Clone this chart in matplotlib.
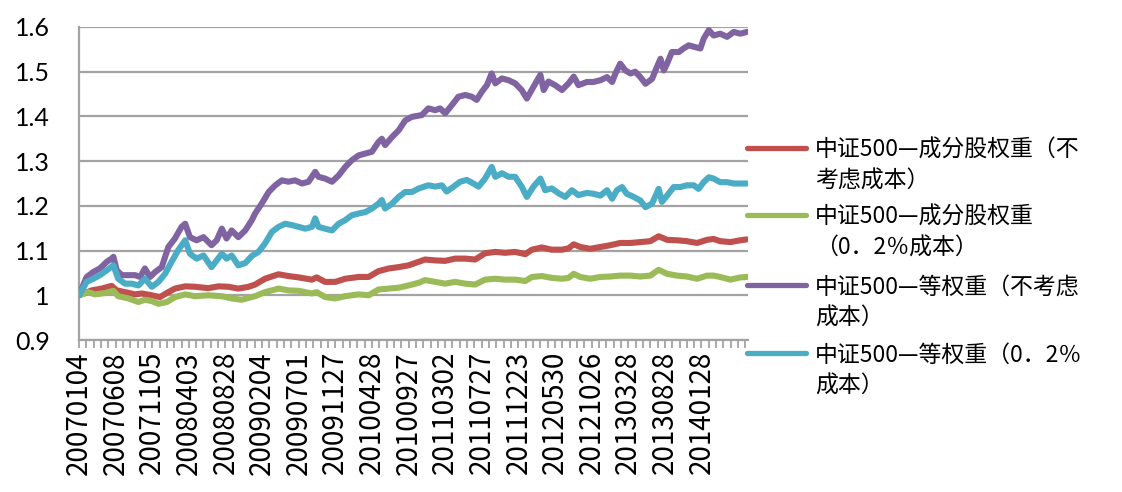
import matplotlib
matplotlib.use("Agg")
import matplotlib.pyplot as plt
from matplotlib.lines import Line2D
from matplotlib.ticker import FixedLocator, MultipleLocator, FuncFormatter

# ---------------- data ----------------
date_labels = ["20070104", "20070608", "20071105", "20080403", "20080828",
               "20090204", "20090701", "20091127", "20100428", "20100927",
               "20110302", "20110727", "20111223", "20120530", "20121026",
               "20130328", "20130828", "20140128"]
label_step = 100          # trading days between labelled categories
n_days = 1828             # number of trading days on the axis

series_names = ["中证500—成分股权重（不\n考虑成本）",
                "中证500—成分股权重\n（0．2％成本）",
                "中证500—等权重（不考虑\n成本）",
                "中证500—等权重（0．2％\n成本）"]

red_day = [0, 35, 62, 89, 103, 126, 153, 171, 199, 221, 244, 262, 290, 317, 353, 381, 408, 435, 463, 481,
           508, 545, 572, 600, 636, 649, 672, 700, 727, 764, 791, 818, 846, 873, 900, 928, 945, 973, 1000,
           1027, 1055, 1082, 1109, 1137, 1164, 1191, 1219, 1237, 1264, 1291, 1319, 1337, 1351, 1369, 1396,
           1424, 1451, 1478, 1506, 1533, 1560, 1583, 1606, 1633, 1660, 1688, 1715, 1733, 1751, 1779, 1806, 1824]
red_val = [1.000, 1.011, 1.015, 1.021, 1.011, 1.007, 1.002, 1.004, 1.000, 0.996, 1.007, 1.015, 1.020, 1.019,
           1.016, 1.020, 1.019, 1.015, 1.019, 1.024, 1.037, 1.047, 1.043, 1.040, 1.035, 1.040, 1.030, 1.030,
           1.037, 1.041, 1.041, 1.054, 1.060, 1.063, 1.067, 1.075, 1.080, 1.078, 1.077, 1.082, 1.082, 1.080,
           1.094, 1.097, 1.095, 1.097, 1.092, 1.102, 1.107, 1.102, 1.102, 1.105, 1.114, 1.108, 1.104, 1.108,
           1.112, 1.117, 1.117, 1.119, 1.121, 1.132, 1.124, 1.123, 1.121, 1.117, 1.124, 1.126, 1.121, 1.119,
           1.123, 1.125]

green_day = [0, 25, 44, 71, 94, 107, 135, 162, 180, 199, 217, 240, 262, 290, 317, 353, 390, 417, 444, 481,
             508, 545, 572, 600, 636, 649, 672, 700, 727, 764, 791, 818, 846, 873, 900, 928, 945, 973, 1000,
             1027, 1055, 1082, 1109, 1137, 1164, 1191, 1219, 1237, 1264, 1291, 1319, 1337, 1351, 1369, 1396,
             1424, 1451, 1478, 1506, 1533, 1560, 1583, 1606, 1633, 1660, 1688, 1715, 1733, 1751, 1779, 1806, 1824]
green_val = [1.000, 1.007, 1.002, 1.005, 1.010, 0.998, 0.993, 0.985, 0.990, 0.987, 0.981, 0.985, 0.996, 1.002,
             0.998, 1.000, 0.998, 0.993, 0.990, 0.998, 1.007, 1.015, 1.011, 1.010, 1.004, 1.007, 0.996, 0.993,
             0.998, 1.002, 1.000, 1.013, 1.015, 1.017, 1.022, 1.028, 1.034, 1.030, 1.026, 1.030, 1.026, 1.024,
             1.035, 1.037, 1.035, 1.035, 1.032, 1.041, 1.043, 1.039, 1.037, 1.039, 1.048, 1.041, 1.037, 1.041,
             1.042, 1.044, 1.044, 1.042, 1.044, 1.057, 1.048, 1.044, 1.042, 1.037, 1.044, 1.044, 1.041, 1.035,
             1.040, 1.041]

purple_day = [0, 21, 39, 57, 76, 89, 94, 103, 117, 135, 153, 167, 180, 194, 208, 226, 244, 262, 280, 290,
              303, 321, 340, 362, 376, 390, 403, 417, 435, 454, 472, 481, 499, 518, 536, 554, 572, 590, 609,
              627, 645, 654, 672, 691, 709, 727, 745, 764, 782, 800, 818, 827, 836, 855, 873, 891, 909, 936,
              954, 973, 986, 1000, 1018, 1036, 1055, 1073, 1086, 1100, 1114, 1127, 1137, 1155, 1173, 1191,
              1209, 1223, 1241, 1260, 1269, 1282, 1300, 1319, 1337, 1351, 1364, 1387, 1405, 1424, 1442, 1456,
              1465, 1478, 1492, 1506, 1519, 1533, 1547, 1565, 1578, 1588, 1597, 1606, 1619, 1638, 1651, 1665,
              1683, 1697, 1706, 1720, 1733, 1751, 1770, 1788, 1806, 1824]
purple_val = [1.000, 1.041, 1.052, 1.060, 1.075, 1.082, 1.086, 1.056, 1.045, 1.045, 1.045, 1.041, 1.060, 1.041,
              1.052, 1.063, 1.108, 1.127, 1.153, 1.160, 1.130, 1.123, 1.130, 1.112, 1.123, 1.149, 1.127, 1.145,
              1.130, 1.145, 1.168, 1.183, 1.205, 1.231, 1.246, 1.257, 1.254, 1.257, 1.250, 1.254, 1.276, 1.265,
              1.261, 1.254, 1.268, 1.287, 1.302, 1.313, 1.317, 1.321, 1.343, 1.350, 1.336, 1.354, 1.369, 1.391,
              1.399, 1.403, 1.418, 1.414, 1.418, 1.407, 1.425, 1.444, 1.448, 1.444, 1.437, 1.455, 1.470, 1.496,
              1.474, 1.485, 1.481, 1.474, 1.459, 1.440, 1.466, 1.493, 1.459, 1.478, 1.470, 1.459, 1.474, 1.489,
              1.470, 1.477, 1.477, 1.481, 1.488, 1.477, 1.496, 1.518, 1.503, 1.496, 1.500, 1.488, 1.473, 1.484,
              1.510, 1.529, 1.503, 1.518, 1.544, 1.544, 1.552, 1.559, 1.555, 1.552, 1.574, 1.593, 1.581, 1.585,
              1.578, 1.589, 1.585, 1.589]

cyan_day = [0, 21, 39, 57, 76, 94, 107, 126, 144, 162, 180, 199, 217, 235, 253, 271, 290, 303, 321, 340,
            362, 376, 390, 403, 417, 435, 454, 472, 490, 508, 527, 545, 563, 581, 600, 618, 636, 645, 654,
            672, 691, 709, 727, 745, 764, 782, 800, 818, 827, 836, 855, 873, 891, 909, 928, 954, 973, 991,
            1004, 1023, 1041, 1059, 1077, 1091, 1109, 1127, 1137, 1155, 1173, 1191, 1209, 1223, 1241, 1260,
            1273, 1291, 1310, 1328, 1346, 1364, 1387, 1405, 1424, 1442, 1456, 1469, 1483, 1496, 1515, 1533,
            1547, 1565, 1583, 1592, 1606, 1624, 1642, 1660, 1679, 1692, 1706, 1720, 1733, 1751, 1770, 1788,
            1806, 1824]
cyan_val = [1.000, 1.030, 1.037, 1.045, 1.056, 1.067, 1.037, 1.026, 1.026, 1.022, 1.037, 1.019, 1.030, 1.048,
            1.075, 1.101, 1.123, 1.093, 1.082, 1.089, 1.063, 1.078, 1.093, 1.082, 1.089, 1.067, 1.072, 1.088,
            1.097, 1.116, 1.142, 1.153, 1.160, 1.157, 1.153, 1.149, 1.153, 1.172, 1.153, 1.149, 1.145, 1.160,
            1.168, 1.179, 1.183, 1.186, 1.194, 1.205, 1.213, 1.194, 1.205, 1.220, 1.231, 1.231, 1.239, 1.246,
            1.243, 1.246, 1.232, 1.243, 1.254, 1.258, 1.250, 1.243, 1.261, 1.287, 1.265, 1.273, 1.265, 1.265,
            1.243, 1.220, 1.243, 1.261, 1.235, 1.239, 1.228, 1.220, 1.235, 1.224, 1.229, 1.227, 1.223, 1.235,
            1.216, 1.235, 1.242, 1.227, 1.220, 1.212, 1.197, 1.205, 1.238, 1.209, 1.223, 1.242, 1.242, 1.246,
            1.246, 1.238, 1.253, 1.264, 1.261, 1.253, 1.253, 1.250, 1.250, 1.250]

y_ticks = [0.9, 1.0, 1.1, 1.2, 1.3, 1.4, 1.5, 1.6]

# ---------------- styling ----------------
colors = ["#C0504D", "#9BBB59", "#8064A2", "#4BACC6"]
grid_color = "#A3A3A3"
cjk = ["Noto Sans CJK SC", "DejaVu Sans"]

fig = plt.figure(figsize=(11.22, 4.92), dpi=100)
W, H = 1122.0, 492.0
ax = fig.add_axes([79 / W, 1 - 340 / H, (748 - 79) / W, (340 - 27) / H])

days = [red_day, green_day, purple_day, cyan_day]
vals = [red_val, green_val, purple_val, cyan_val]
for d, v, c in zip(days, vals, colors):
    ax.plot(d, v, color=c, lw=4.4, solid_capstyle="round", solid_joinstyle="round", zorder=3)

ax.set_xlim(0, n_days - 1)
ax.set_ylim(y_ticks[0], y_ticks[-1])

ax.set_yticks(y_ticks)
ax.yaxis.set_major_formatter(FuncFormatter(lambda v, p: f"{v:g}"))
ax.tick_params(axis="y", length=0, pad=21, labelsize=18)
for t in ax.get_yticklabels():
    t.set_fontfamily("Lato")

major_pos = [i * label_step for i in range(len(date_labels))]
ax.xaxis.set_major_locator(FixedLocator(major_pos))
ax.set_xticklabels(date_labels, rotation=90, fontsize=20, family=cjk)
ax.xaxis.set_minor_locator(MultipleLocator(20))
ax.tick_params(axis="x", which="both", direction="out", length=6, width=1.3,
               color=grid_color, pad=2)

ax.grid(axis="y", color=grid_color, lw=1.6, zorder=0)
ax.set_axisbelow(True)
for s in ["top", "right"]:
    ax.spines[s].set_visible(False)
for s in ["left", "bottom"]:
    ax.spines[s].set_color(grid_color)
    ax.spines[s].set_linewidth(1.6)

# legend (handles aligned to first text line, like the original)
first_line_y = [148, 215, 285, 353]
for name, c, yl in zip(series_names, colors, first_line_y):
    yf = 1 - yl / H
    fig.add_artist(Line2D([747 / W, 806 / W], [yf, yf], transform=fig.transFigure,
                          color=c, lw=3.8, solid_capstyle="round"))
    fig.text(815 / W, 1 - (yl + 17.5) / H, name, fontsize=16.5, family=cjk,
             va="center", ha="left", linespacing=1.45)

fig.savefig("out.png", dpi=100)
